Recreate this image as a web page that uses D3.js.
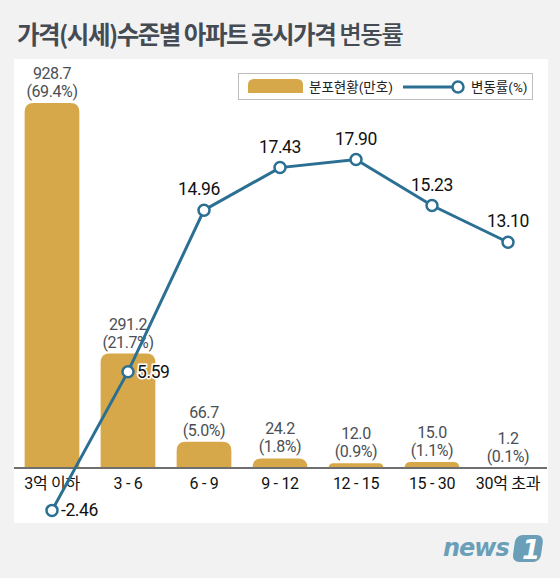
<!DOCTYPE html>
<html><head><meta charset="utf-8">
<script src="https://cdn.jsdelivr.net/npm/d3@7"></script>
<style>
body{margin:0;background:#f2f2f2;}
svg{display:block;font-family:Roboto,"Noto Sans CJK KR",sans-serif;}
</style></head>
<body><svg id="c" width="560" height="578"></svg>
<script>
const categories = ["3억 이하","3 - 6","6 - 9","9 - 12","12 - 15","15 - 30","30억 초과"];
const households = [928.7, 291.2, 66.7, 24.2, 12.0, 15.0, 1.2];
const shares = ["69.4%","21.7%","5.0%","1.8%","0.9%","1.1%","0.1%"];
const changeRates = [-2.46, 5.59, 14.96, 17.43, 17.90, 15.23, 13.10];
const changeLabels = ["-2.46","5.59","14.96","17.43","17.90","15.23","13.10"];

const svg = d3.select("#c");
const barColor = "#d7a84a", lineColor = "#2b6f93";
svg.append("rect").attr("x",0).attr("y",0).attr("width",560).attr("height",578).attr("fill","#f2f2f2");
svg.append("rect").attr("x",14).attr("y",59).attr("width",534).attr("height",464).attr("fill","#fff");

const title = svg.append("text").attr("x",17).attr("y",44).attr("font-size",24.5).attr("fill","#454b53")
  .attr("font-family","'Noto Sans CJK KR',sans-serif").attr("letter-spacing",-1.5);
title.append("tspan").attr("font-weight",700).text("가격(시세)수준별 아파트 공시가격 ");
title.append("tspan").attr("font-weight",500).text("변동률");

const x = d3.scaleBand().domain(categories).range([14,546]).paddingInner(0.28).paddingOuter(0.14);
const base = 468;
const yBar = d3.scaleLinear().domain([0, 928.7]).range([base, 103]);
const yLine = d3.scaleLinear().domain([0, 17.90]).range([base, 159.5]);

function roundTopBar(x0, y0, w, h, r){
  r = Math.min(r, h, w/2);
  return `M${x0},${y0+h}V${y0+r}Q${x0},${y0} ${x0+r},${y0}H${x0+w-r}Q${x0+w},${y0} ${x0+w},${y0+r}V${y0+h}Z`;
}
svg.append("g").selectAll("path").data(households).join("path")
  .attr("d",(d,i)=>roundTopBar(x(categories[i]), yBar(d), x.bandwidth(), base-yBar(d), 9))
  .attr("fill",barColor);

// axis
const axis = svg.append("g").attr("transform",`translate(0,${base})`).call(d3.axisBottom(x).tickSize(0).tickPadding(10));
axis.select(".domain").attr("stroke","#6f6f6f").attr("stroke-width",2).attr("d","M14,0H547");
axis.selectAll("text").attr("font-size",16).attr("fill","#111").attr("font-family","Roboto,'Noto Sans CJK KR',sans-serif").attr("letter-spacing",-0.3);

// bar labels
const bl = svg.append("g").attr("font-size",16).attr("fill","#4a4f55").attr("text-anchor","middle").attr("letter-spacing",-0.4);
households.forEach((d,i)=>{
  const cx = x(categories[i]) + x.bandwidth()/2;
  bl.append("text").attr("x",cx).attr("y",yBar(d)-24).text(d.toFixed(1));
  bl.append("text").attr("x",cx).attr("y",yBar(d)-6).text("("+shares[i]+")");
});

// line
const cxs = categories.map(c=>x(c)+x.bandwidth()/2);
const line = d3.line().x((d,i)=>cxs[i]).y(d=>yLine(d));
svg.append("path").datum(changeRates).attr("d",line).attr("fill","none").attr("stroke",lineColor).attr("stroke-width",3);
svg.append("g").selectAll("circle").data(changeRates).join("circle")
  .attr("cx",(d,i)=>cxs[i]).attr("cy",d=>yLine(d)).attr("r",5.5)
  .attr("fill","#fff").attr("stroke",lineColor).attr("stroke-width",2.5);

const ll = svg.append("g").attr("font-size",17.5).attr("fill","#111").attr("font-weight",400).attr("letter-spacing",-0.4);
changeRates.forEach((d,i)=>{
  const px = cxs[i], py = yLine(d);
  let t;
  if(i<=1){
    t = ll.append("text").attr("x",px+9).attr("y",py+6).attr("text-anchor","start")
      .attr("stroke","#fff").attr("stroke-width",3).attr("paint-order","stroke");
  } else {
    t = ll.append("text").attr("x",px-(i==2?5:0)).attr("y",py-15).attr("text-anchor","middle");
  }
  t.text(changeLabels[i]);
});

// legend
const lg = svg.append("g");
lg.append("rect").attr("x",238.5).attr("y",73.5).attr("width",294).attr("height",26).attr("fill","#fff").attr("stroke","#bdbdbd");
lg.append("path").attr("d",roundTopBar(248,79,55,14,6)).attr("fill",barColor);
lg.append("text").attr("x",309).attr("y",92).attr("font-size",13.5).attr("fill","#222").text("분포현황(만호)");
lg.append("line").attr("x1",403).attr("x2",455).attr("y1",87).attr("y2",87).attr("stroke",lineColor).attr("stroke-width",3);
lg.append("circle").attr("cx",458).attr("cy",87).attr("r",5.5).attr("fill","#fff").attr("stroke",lineColor).attr("stroke-width",2.5);
lg.append("text").attr("x",471).attr("y",92).attr("font-size",13.5).attr("fill","#222").text("변동률(%)");

// logo
const logo = svg.append("g");
logo.append("text").attr("x",443).attr("y",556).attr("font-size",24).attr("font-weight",700).attr("font-style","italic")
  .attr("fill","#6b9fb8").attr("font-family","'DejaVu Sans',sans-serif").attr("letter-spacing",-1).text("news");
logo.append("rect").attr("x",515).attr("y",535).attr("width",28).attr("height",27).attr("rx",7).attr("fill","#6b9fb8").attr("transform","skewX(-8) translate(76,0)");
logo.append("text").attr("x",531).attr("y",559).attr("font-size",26).attr("font-weight",700).attr("font-style","italic")
  .attr("fill","#fff").attr("text-anchor","middle").attr("font-family","'DejaVu Sans',sans-serif").text("1");
</script></body></html>
